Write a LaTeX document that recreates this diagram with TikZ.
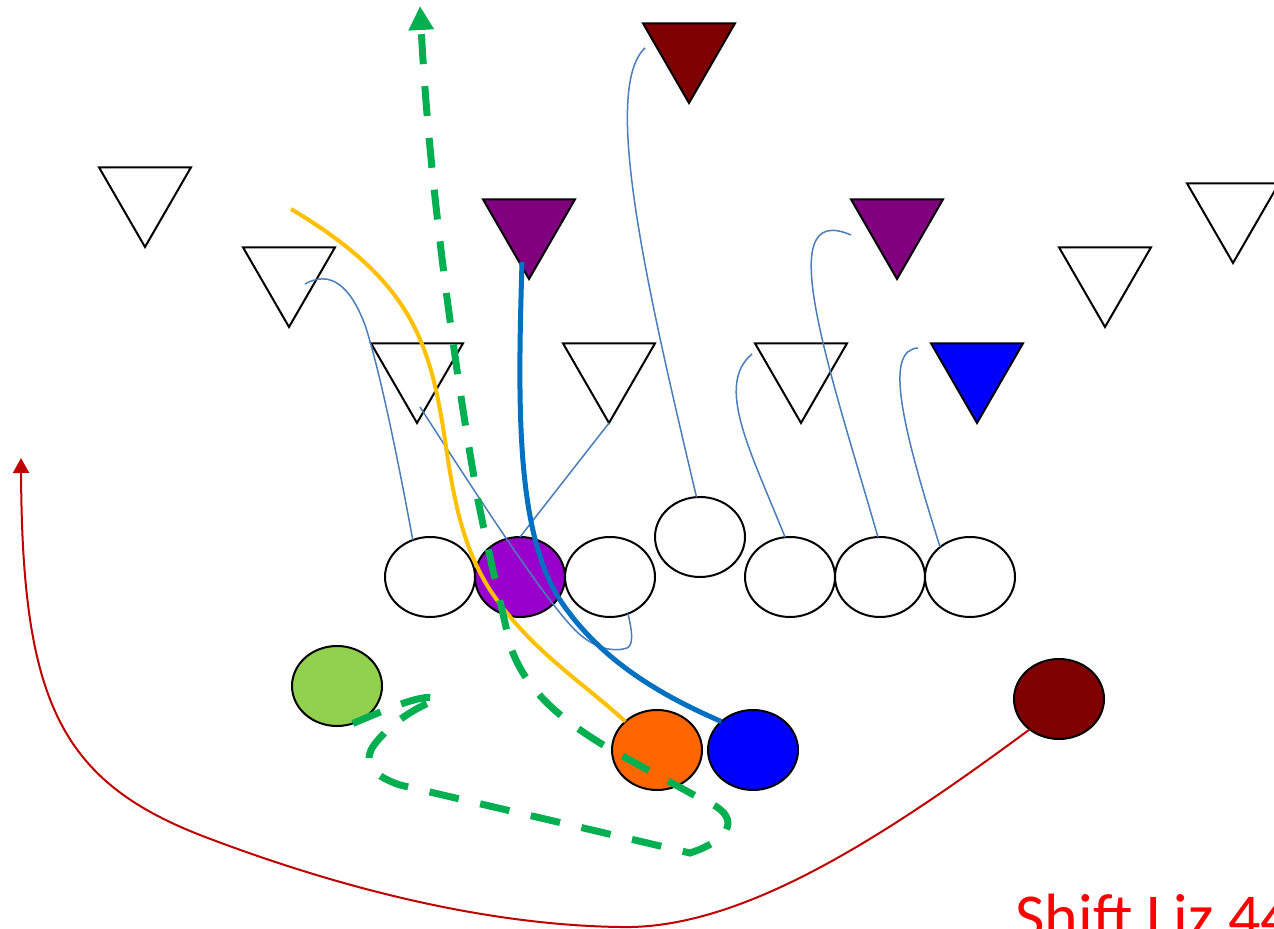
\documentclass[tikz,border=0pt]{standalone}
\usepackage{fontspec}
\newfontfamily\calib{Carlito}
\usetikzlibrary{shapes.geometric,arrows.meta}
\definecolor{dred}{HTML}{7F0000}
\definecolor{purp}{HTML}{800080}
\definecolor{purpc}{HTML}{9900CC}
\definecolor{lgreen}{HTML}{92D050}
\definecolor{orng}{HTML}{FF6600}
\definecolor{thinblue}{HTML}{4A7EBB}
\definecolor{thickblue}{HTML}{0070C0}
\definecolor{ylw}{HTML}{FFC000}
\definecolor{grn}{HTML}{00B050}
\definecolor{rred}{HTML}{C00000}
\begin{document}
\begin{tikzpicture}[x=0.5pt,y=-0.5pt,
  tri/.style={regular polygon, regular polygon sides=3, shape border rotate=180,
    minimum size=53pt, inner sep=0pt, outer sep=0pt, draw=black, line width=1pt, anchor=corner 1},
  player/.style={ellipse, minimum width=45pt, minimum height=40pt, inner sep=0pt,
    outer sep=0pt, draw=black, line width=1pt, fill=white},
  thinroute/.style={draw=thinblue, line width=0.75pt},
  yroute/.style={draw=ylw, line width=2pt},
  broute/.style={draw=thickblue, line width=2.5pt},
  groute/.style={draw=grn, line width=3.5pt, dash pattern=on 15pt off 11pt,
    -{Triangle[length=12pt,width=12pt]}},
  rroute/.style={draw=rred, line width=1pt, -{Triangle[length=7.5pt,width=8pt]}}]
\useasboundingbox (0,0) rectangle (1274,929);

% defenders
\node[tri, fill=dred] (tDR) at (689,103) {};
\node[tri, fill=white] (tW1) at (145,247) {};
\node[tri, fill=white] (tW2) at (289,327) {};
\node[tri, fill=purp] (tP1) at (529,279) {};
\node[tri, fill=purp] (tP2) at (897,279) {};
\node[tri, fill=white] (tW3) at (1233,263) {};
\node[tri, fill=white] (tW4) at (1105,327) {};
\node[tri, fill=white] (tW5) at (417,423) {};
\node[tri, fill=white] (tW6) at (609,423) {};
\node[tri, fill=white] (tW7) at (801,423) {};
\node[tri, fill=blue] (tB) at (977,423) {};

% offense
\node[player] (c1) at (430,577) {};
\node[player, fill=purpc] (c2) at (520,577) {};
\node[player] (c3) at (610,577) {};
\node[player] (c4) at (700,537) {};
\node[player] (c5) at (790,577) {};
\node[player] (c6) at (880,577) {};
\node[player] (c7) at (970,577) {};
\node[player, fill=lgreen] (g) at (337,686) {};
\node[player, fill=orng] (o) at (657,750) {};
\node[player, fill=blue] (b) at (753,750) {};
\node[player, fill=dred] (r) at (1059,699) {};

% free ends
\coordinate (h1) at (305,284);
\coordinate (s3) at (420,407);
\coordinate (h4) at (645,48);
\coordinate (h5) at (752,354);
\coordinate (h6) at (851,235);
\coordinate (h7) at (918,348);
\coordinate (ys) at (291,209);
\coordinate (bs) at (522,262);
\coordinate (gend) at (420,6);
\coordinate (rend) at (21,458);

% thin blocking lines
\draw[thinroute] (c1.115) .. controls (400,470) and (380,370) .. (365,325)
  .. controls (350,285) and (330,270) .. (h1);
\draw[thinroute] (tW6.corner 1) -- (c2.north);
\draw[thinroute] (s3) .. controls (480,500) and (545,600) .. (575,630)
  .. controls (595,650) and (615,652) .. (627,648)
  .. controls (634,645) and (632,630) .. (c3.-64);
\draw[thinroute] (c4.95) .. controls (650,300) and (600,90) .. (h4);
\draw[thinroute] (c5.97) .. controls (750,450) and (715,385) .. (h5);
\draw[thinroute] (c6.93) .. controls (830,370) and (770,200) .. (h6);
\draw[thinroute] (c7.135) .. controls (900,420) and (885,350) .. (h7);

% yellow route
\draw[yroute] (ys) .. controls (410,280) and (430,340) .. (445,440)
  .. controls (455,510) and (465,550) .. (490,590)
  .. controls (530,650) and (580,680) .. (o.138);

% thick blue route
\draw[broute] (bs) .. controls (518,400) and (515,530) .. (560,600)
  .. controls (600,660) and (660,695) .. (b.138);

% green dashed route
\draw[groute] (g.-67) .. controls (390,708) and (425,692) .. (439,699)
  .. controls (420,705) and (395,720) .. (378,740)
  .. controls (360,760) and (370,775) .. (400,785)
  -- (690,853)
  .. controls (735,838) and (740,815) .. (705,801)
  -- (615,752)
  .. controls (560,720) and (525,690) .. (510,645)
  .. controls (500,600) and (490,560) .. (478,500)
  .. controls (460,400) and (430,200) .. (gend);

% red route
\draw[rroute] (r.-134) .. controls (880,840) and (740,930) .. (620,927)
  .. controls (480,925) and (330,885) .. (200,835)
  .. controls (60,780) and (22,700) .. (rend);

% label
\node[anchor=base west, inner sep=0pt, text=red, font=\calib\fontsize{32pt}{38pt}\selectfont] (lbl) at (1015,938) {Shift Liz 44};
\end{tikzpicture}
\end{document}
